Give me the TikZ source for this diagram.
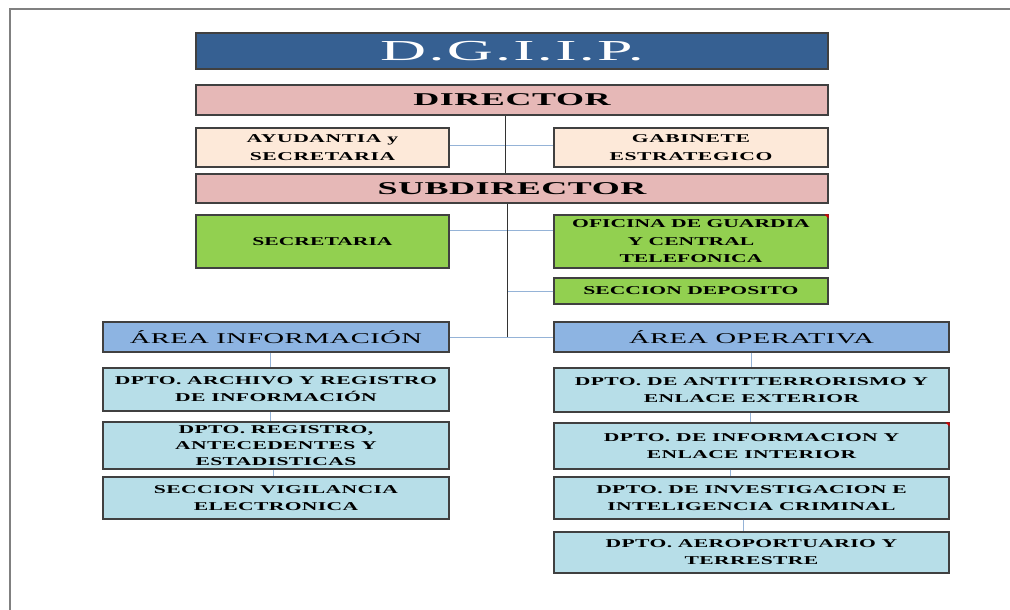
\documentclass[tikz,border=0pt]{standalone}
\usepackage{fontspec}
\setmainfont{Liberation Serif}[FakeStretch=1.8]
\definecolor{dgiipblue}{HTML}{366092}
\definecolor{chiefpink}{HTML}{E6B8B7}
\definecolor{staffpeach}{HTML}{FDE9D9}
\definecolor{officegreen}{HTML}{92D050}
\definecolor{areablue}{HTML}{8DB4E2}
\definecolor{deptblue}{HTML}{B7DEE8}
\definecolor{linkblue}{HTML}{95B3D7}
\tikzset{
  unit/.style={draw=black!75, line width=1.2pt, inner sep=0pt, align=center, text=black},
  chief/.style={unit, fill=chiefpink, minimum width=632pt, font=\bfseries\fontsize{18}{20}\selectfont\addfontfeatures{FakeStretch=2.0,LetterSpace=3}},
  staff/.style={unit, fill=staffpeach, minimum height=39pt, font=\bfseries\fontsize{12}{17.5}\selectfont\addfontfeatures{LetterSpace=5}},
  office/.style={unit, fill=officegreen, font=\bfseries\fontsize{12}{17.5}\selectfont},
  area/.style={unit, fill=areablue, minimum height=30pt, font=\fontsize{15}{17}\selectfont\addfontfeatures{FakeStretch=1.9,LetterSpace=3}},
  dept/.style={unit, fill=deptblue, font=\bfseries\fontsize{12}{17}\selectfont\addfontfeatures{LetterSpace=3}},
  trunk/.style={draw=black!80, line width=0.9pt},
  link/.style={draw=linkblue, line width=0.9pt},
  flag/.style={fill=red!85!black}
}
\begin{document}
\begin{tikzpicture}[x=1pt, y=-1pt]
\useasboundingbox (0,0) rectangle (1010,610);
% page frame
\draw[gray, line width=2pt] (10,610) -- (10,9.5) -- (1010,9.5);

% top of the chart
\node[unit, fill=dgiipblue, minimum width=632pt, minimum height=36pt, text=white,
  font=\fontsize{29}{30}\selectfont\addfontfeatures{FakeStretch=2.2,LetterSpace=8}] (dgiip) at (512,51) {D.G.I.I.P.};
\node[chief, minimum height=30pt] (director) at (512,100) {DIRECTOR};
\node[staff, minimum width=253pt] (ayud) at (322.5,147.5) {AYUDANTIA y\\SECRETARIA};
\node[staff, minimum width=274pt] (gabinete) at (691,147.5) {GABINETE\\ESTRATEGICO};
\node[chief, minimum height=29pt] (subdir) at (512,188.5) {SUBDIRECTOR};
\node[office, minimum width=253pt, minimum height=53pt] (secret) at (322.5,241.5) {SECRETARIA};
\node[office, minimum width=274pt, minimum height=53pt] (oficina) at (691,241.5) {OFICINA DE GUARDIA\\Y CENTRAL\\TELEFONICA};
\node[office, minimum width=274pt, minimum height=26pt] (deposito) at (691,291) {SECCION DEPOSITO};

% areas
\node[area, minimum width=346pt] (areainf) at (276,337) {ÁREA INFORMACIÓN};
\node[area, minimum width=395pt] (areaop) at (751.5,337) {ÁREA OPERATIVA};

% departamentos
\node[dept, minimum width=346pt, minimum height=43pt] (archivo) at (276,389.5) {DPTO. ARCHIVO Y REGISTRO\\DE INFORMACIÓN};
\node[dept, minimum width=346pt, minimum height=47pt, font=\bfseries\fontsize{12}{16}\selectfont\addfontfeatures{LetterSpace=3}] (registro) at (276,445.5) {DPTO. REGISTRO,\\ANTECEDENTES Y\\ESTADISTICAS};
\node[dept, minimum width=346pt, minimum height=42pt] (vigilancia) at (276,498) {SECCION VIGILANCIA\\ELECTRONICA};
\node[dept, minimum width=395pt, minimum height=44pt] (antiterror) at (751.5,390) {DPTO. DE ANTITTERRORISMO Y\\ENLACE EXTERIOR};
\node[dept, minimum width=395pt, minimum height=46pt] (interior) at (751.5,446) {DPTO. DE INFORMACION Y\\ENLACE INTERIOR};
\node[dept, minimum width=395pt, minimum height=42pt] (criminal) at (751.5,498) {DPTO. DE INVESTIGACION E\\INTELIGENCIA CRIMINAL};
\node[dept, minimum width=395pt, minimum height=41pt] (aero) at (751.5,552.5) {DPTO. AEROPORTUARIO Y\\TERRESTRE};

% connectors
\coordinate (tr) at ([xshift=-5pt]subdir.south);
\draw[link] ([yshift=2pt]ayud.east) -- ([yshift=2pt]gabinete.west);
\draw[link] ([yshift=11.5pt]secret.east) -- ([yshift=11.5pt]oficina.west);
\draw[link] (deposito.west) -- (deposito.west -| tr);
\draw[link] (areainf.east) -- (areaop.west);
\draw[trunk] ([xshift=-7pt]director.south) -- ([xshift=-7pt]subdir.north);
\draw[trunk] (tr) -- (tr |- areainf.east);

\draw[link] ([xshift=-6pt]areainf.south) -- ([xshift=-6pt]archivo.north);
\draw[link] ([xshift=-6pt]archivo.south) -- ([xshift=-6pt]registro.north);
\draw[link] ([xshift=-3pt]registro.south) -- ([xshift=-3pt]vigilancia.north);
\draw[link] (areaop.south) -- (antiterror.north);
\draw[link] ([xshift=-1.5pt]antiterror.south) -- ([xshift=-1.5pt]interior.north);
\draw[link] ([xshift=-21pt]interior.south) -- ([xshift=-21pt]criminal.north);
\draw[link] ([xshift=-8.5pt]criminal.south) -- ([xshift=-8.5pt]aero.north);

% comment marks
\fill[flag] (oficina.north east) -- ++(-4pt,0pt) -- ++(4pt,-4pt) -- cycle;
\fill[flag] (interior.north east) -- ++(-4pt,0pt) -- ++(4pt,-4pt) -- cycle;
\end{tikzpicture}
\end{document}
